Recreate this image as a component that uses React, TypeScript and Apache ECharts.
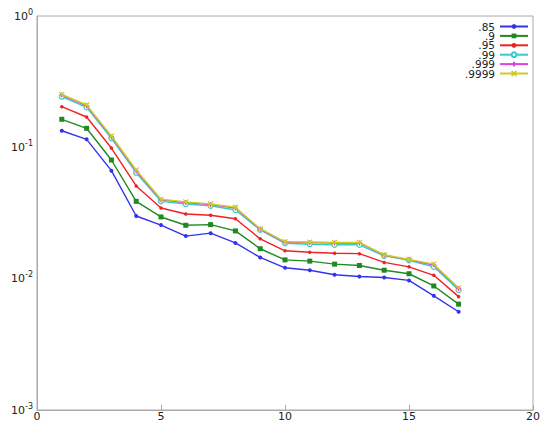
import React, { useEffect, useRef } from "react";
import * as echarts from "echarts";

const xValues = [1, 2, 3, 4, 5, 6, 7, 8, 9, 10, 11, 12, 13, 14, 15, 16, 17];
const seriesNames = [".85", ".9", ".95", ".99", ".999", ".9999"];
const s85 = [0.1338, 0.1151, 0.0664, 0.0300, 0.0256, 0.0211, 0.0222, 0.0187, 0.0145, 0.0121, 0.0116, 0.0107, 0.0104, 0.0102, 0.0097, 0.0074, 0.0056];
const s90 = [0.1635, 0.1396, 0.0801, 0.0388, 0.0295, 0.0255, 0.0258, 0.0231, 0.0169, 0.0139, 0.0136, 0.0129, 0.0126, 0.0116, 0.0109, 0.0088, 0.0064];
const s95 = [0.2039, 0.1702, 0.0988, 0.0508, 0.0345, 0.0311, 0.0304, 0.0286, 0.0201, 0.0163, 0.0159, 0.0156, 0.0155, 0.0133, 0.0123, 0.0106, 0.0073];
const s99 = [0.2429, 0.2017, 0.1172, 0.0641, 0.0388, 0.0370, 0.0359, 0.0333, 0.0235, 0.0186, 0.0183, 0.0181, 0.0181, 0.0149, 0.0138, 0.0123, 0.0082];
const s999 = [0.2500, 0.2070, 0.1200, 0.0660, 0.0398, 0.0380, 0.0366, 0.0345, 0.0238, 0.0189, 0.0188, 0.0187, 0.0187, 0.0151, 0.0139, 0.0127, 0.0084];
const s9999 = [0.2534, 0.2101, 0.1220, 0.0672, 0.0402, 0.0384, 0.0370, 0.0350, 0.0240, 0.0191, 0.0190, 0.0189, 0.0189, 0.0152, 0.0140, 0.0129, 0.0085];
const xTicks = [0, 5, 10, 15, 20];

const allData = [s85, s90, s95, s99, s999, s9999];
const colors = ["#3333ee", "#1f8a1f", "#ee2222", "#33cccc", "#dd44dd", "#cccc22"];
const symbols = [
  "circle",
  "rect",
  "circle",
  "circle",
  "path://M5,0L5,10M0,5L10,5",
  "path://M0,0L10,10M10,0L0,10",
];
const symbolSizes = [4, 5, 3.5, 5, 5, 5];

export default function App() {
  const ref = useRef<HTMLDivElement>(null);
  useEffect(() => {
    const chart = echarts.init(ref.current!, null, { renderer: "svg" });
    const series = seriesNames.map((name, i) => ({
      name,
      type: "line",
      data: xValues.map((x, j) => [x, allData[i][j]]),
      symbol: symbols[i],
      symbolSize: symbolSizes[i],
      showSymbol: true,
      lineStyle: { color: colors[i], width: 1.4 },
      itemStyle: {
        color: i === 3 ? "#ffffff" : colors[i],
        borderColor: colors[i],
        borderWidth: i >= 3 ? 1.2 : 0,
      },
      z: 2 + i,
    }));
    chart.setOption({
      animation: false,
      backgroundColor: "#ffffff",
      textStyle: { fontFamily: "DejaVu Sans" },
      grid: { left: 37, right: 6, top: 16, bottom: 13, show: true, borderColor: "#aaaaaa", borderWidth: 1 },
      legend: {
        orient: "vertical",
        right: 9,
        top: 16,
        align: "right",
        itemWidth: 28,
        itemHeight: 6,
        itemGap: -1.6,
        data: seriesNames,
        textStyle: { fontSize: 10.5, lineHeight: 9, color: "#222", fontFamily: "DejaVu Sans" },
      },
      xAxis: {
        type: "value",
        min: 0,
        max: 20,
        interval: 5,
        axisLine: { show: true, lineStyle: { color: "#aaaaaa" } },
        axisTick: { show: true, inside: true, length: 5, lineStyle: { color: "#aaaaaa" } },
        splitLine: { show: false },
        axisLabel: {
          color: "#222",
          fontSize: 11,
          margin: 1,
          formatter: (v: number) => (xTicks.includes(v) ? String(v) : ""),
        },
      },
      yAxis: {
        type: "log",
        logBase: 10,
        min: 0.001,
        max: 1,
        axisLine: { show: true, lineStyle: { color: "#aaaaaa" } },
        axisTick: { show: false },
        splitLine: { show: false },
        axisLabel: {
          margin: 4,
          formatter: (v: number) => `{b|10}{s|${Math.round(Math.log10(v))}}`,
          rich: {
            b: { fontSize: 11, color: "#222", fontFamily: "DejaVu Sans" },
            s: { fontSize: 8, color: "#222", fontFamily: "DejaVu Sans", padding: [0, 0, 8, 0] },
          },
        },
      },
      series,
    });
    return () => chart.dispose();
  }, []);
  return <div ref={ref} style={{ position: "absolute", left: 0, top: 0, width: 543, height: 423 }} />;
}
